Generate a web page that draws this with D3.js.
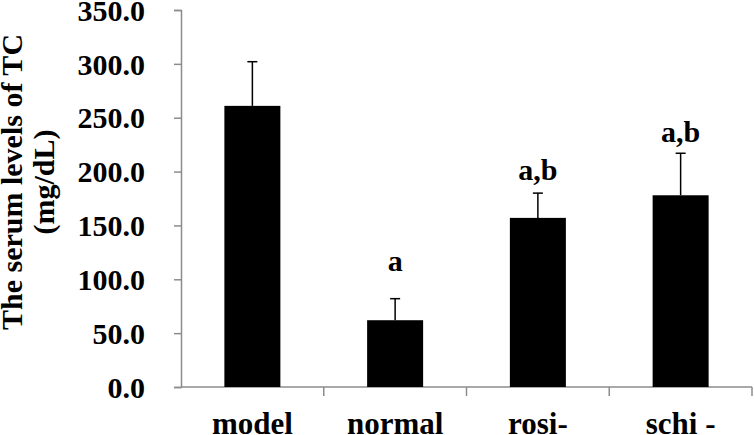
<!DOCTYPE html>
<html>
<head>
<meta charset="utf-8">
<script src="https://cdn.jsdelivr.net/npm/d3@7"></script>
<style>
  body { margin: 0; background: #fff; }
  svg text { font-family: "Liberation Serif", "Times New Roman", serif; font-weight: bold; fill: #000; }
</style>
</head>
<body>
<div id="chart"></div>
<script>
// values
const groups = ["model", "normal", "rosi-", "schi -"]
const means = [261, 62, 157, 178]
const errors = [41, 20, 23, 39]
const marks = ["", "a", "a,b", "a,b"]
const yTicks = [0, 50, 100, 150, 200, 250, 300, 350]

const width = 754, height = 435
const margin = { top: 10, right: 2, bottom: 48, left: 181 }
const fontSize = "30px"

var svg = d3.select("#chart")
  .append("svg")
    .attr("width", width)
    .attr("height", height)

var x = d3.scaleBand()
  .domain(groups)
  .range([margin.left, width - margin.right])

var y = d3.scaleLinear()
  .domain([0, 350])
  .range([height - margin.bottom, margin.top])

const axisColor = "#8c8c8c"

// y axis
var yAxis = svg.append("g")
  .attr("transform", `translate(${margin.left},0)`)
  .call(d3.axisLeft(y).tickValues(yTicks).tickFormat(d3.format(".1f")).tickSize(7).tickPadding(29))
yAxis.select(".domain").attr("stroke", axisColor).attr("stroke-width", 1.5)
yAxis.selectAll(".tick line").attr("stroke", axisColor).attr("stroke-width", 1.5)
yAxis.selectAll(".tick text").style("font-size", fontSize).attr("dy", "0.34em")

// x axis, ticks sit between the groups
var xAxis = svg.append("g")
  .attr("transform", `translate(0,${y(0)})`)
xAxis.append("line")
  .attr("x1", margin.left).attr("x2", width - margin.right)
  .attr("stroke", axisColor).attr("stroke-width", 1.5)
xAxis.selectAll(".sep")
  .data(groups)
  .enter().append("line")
    .attr("class", "sep")
    .attr("x1", d => x(d) + x.bandwidth())
    .attr("x2", d => x(d) + x.bandwidth())
    .attr("y1", 0).attr("y2", 9)
    .attr("stroke", axisColor).attr("stroke-width", 1.5)
xAxis.selectAll(".lbl")
  .data(groups)
  .enter().append("text")
    .attr("class", "lbl")
    .attr("x", d => x(d) + x.bandwidth() / 2)
    .attr("y", 47)
    .attr("text-anchor", "middle")
    .style("font-size", "31px")
    .text(d => d)

const barW = 56
// gap between error cap and letter baseline
const markGap = [0, 28, 13, 11]

// error bars
var err = svg.append("g")
  .selectAll("g").data(groups).enter().append("g")
err.append("line")
  .attr("x1", d => x(d) + x.bandwidth() / 2)
  .attr("x2", d => x(d) + x.bandwidth() / 2)
  .attr("y1", (d, i) => y(means[i]))
  .attr("y2", (d, i) => y(means[i] + errors[i]))
  .attr("stroke", "#000").attr("stroke-width", 1.5)
err.append("line")
  .attr("x1", d => x(d) + x.bandwidth() / 2 - 5)
  .attr("x2", d => x(d) + x.bandwidth() / 2 + 5)
  .attr("y1", (d, i) => y(means[i] + errors[i]))
  .attr("y2", (d, i) => y(means[i] + errors[i]))
  .attr("stroke", "#000").attr("stroke-width", 1.5)

// bars
svg.append("g")
  .selectAll("rect").data(groups).enter().append("rect")
    .attr("x", d => x(d) + x.bandwidth() / 2 - barW / 2)
    .attr("width", barW)
    .attr("y", (d, i) => y(means[i]))
    .attr("height", (d, i) => y(0) - y(means[i]))
    .attr("fill", "#000")

// significance letters
svg.append("g")
  .selectAll("text").data(groups).enter().append("text")
    .attr("x", d => x(d) + x.bandwidth() / 2)
    .attr("y", (d, i) => y(means[i] + errors[i]) - markGap[i])
    .attr("text-anchor", "middle")
    .style("font-size", fontSize)
    .text((d, i) => marks[i])

// y title
var title = svg.append("text")
  .attr("transform", "translate(0,182) rotate(-90)")
  .attr("text-anchor", "middle")
  .style("font-size", fontSize)
title.append("tspan").attr("x", 0).attr("y", 22).text("The serum levels of TC")
title.append("tspan").attr("x", 0).attr("y", 54).text("(mg/dL)")
</script>
</body>
</html>
